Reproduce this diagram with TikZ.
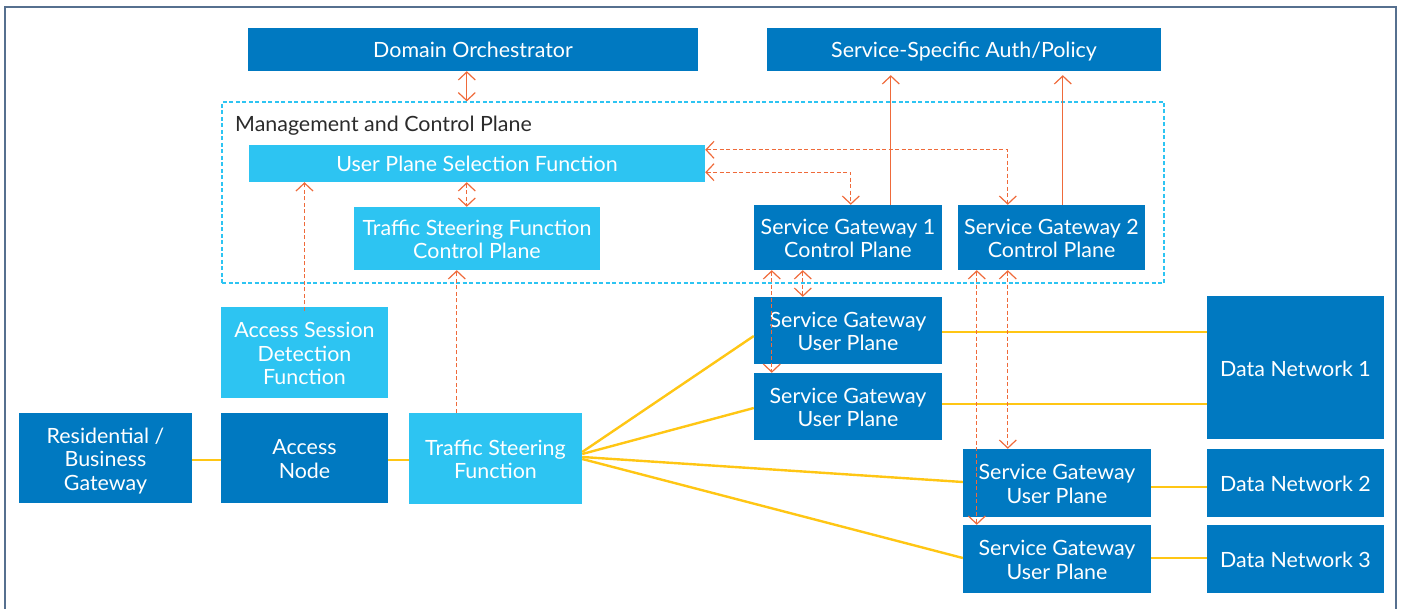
\documentclass[tikz,border=0pt]{standalone}
\usepackage{fontspec}
\setmainfont{Lato}[FakeStretch=1.02]
\usetikzlibrary{arrows.meta}

\definecolor{dkblue}{HTML}{0079C1}
\definecolor{ltblue}{HTML}{2DC4F2}
\definecolor{linkorange}{HTML}{EF6A3A}
\definecolor{linkyellow}{HTML}{FFC614}
\definecolor{framegray}{HTML}{56708F}
\definecolor{labelgray}{HTML}{2B2B2B}

\newcommand{\boxfont}{\fontsize{21}{23.5}\selectfont}
% fixed first-line height and last-line depth so every box centres its text alike
\newcommand{\topstrut}{\rule{0pt}{21.5pt}}
\newcommand{\botstrut}{\rule[-4.5pt]{0pt}{4.5pt}}

\tikzset{
  dkbox/.style={rectangle, fill=dkblue, text=white, inner sep=0pt, align=center, font=\boxfont,
    execute at begin node=\topstrut, execute at end node=\botstrut},
  ltbox/.style={dkbox, fill=ltblue},
  planeframe/.style={rectangle, draw=ltblue, line width=1.2pt, dash pattern=on 4pt off 2.5pt, inner sep=0pt},
  ylink/.style={draw=linkyellow, line width=2.4pt},
  barb/.tip={Straight Barb[length=8pt,width=17pt,line width=1.2pt]},
  solidarrow/.style={draw=linkorange, line width=1.3pt},
  dasharrow/.style={draw=linkorange, line width=1.3pt, dash pattern=on 4pt off 2.5pt},
}

\begin{document}
\begin{tikzpicture}[x=1pt, y=-1pt]
\useasboundingbox (0,0) rectangle (1404,609);

% outer frame (open at the bottom)
\draw[framegray, line width=2pt] (5,612) -- (5,7) -- (1396,7) -- (1396,612);

% management and control plane region
\node[planeframe, minimum width=942pt, minimum height=181pt] (mcp) at (693,192.5) {};
\node[anchor=base west, text=labelgray, font=\boxfont, inner sep=0pt] (mcplabel) at (235,131.5) {Management and Control Plane};

% top level boxes
\node[dkbox, minimum width=450pt, minimum height=43pt] (orch) at (473,49.5) {Domain Orchestrator};
\node[dkbox, minimum width=394pt, minimum height=43pt] (auth) at (964,49.5) {Service-Specific Auth/Policy};

% control plane functions
\node[ltbox, minimum width=456pt, minimum height=37pt] (upsf) at (477,163.5) {User Plane Selection Function};
\node[ltbox, minimum width=246pt, minimum height=63pt] (tsfcp) at (477,238.5) {\topstrut Traffic Steering Function\\Control Plane};
\node[dkbox, minimum width=188pt, minimum height=65pt] (sg1cp) at (848,237.5) {\topstrut Service Gateway 1\\Control Plane};
\node[dkbox, minimum width=187pt, minimum height=65pt] (sg2cp) at (1051.5,237.5) {\topstrut Service Gateway 2\\Control Plane};

% access side
\node[ltbox, minimum width=167pt, minimum height=91pt] (asdf) at (304.5,352.5) {\topstrut Access Session\\Detection\\Function};
\node[dkbox, minimum width=173pt, minimum height=90pt] (rbg) at (105.5,458) {\topstrut Residential /\\Business\\Gateway};
\node[dkbox, minimum width=167pt, minimum height=90pt] (an) at (304.5,458) {\topstrut Access\\Node};
\node[ltbox, minimum width=173pt, minimum height=91pt] (tsf) at (495.5,458.5) {\topstrut Traffic Steering\\Function};

% user plane gateways
\node[dkbox, minimum width=188pt, minimum height=67pt] (sgu1) at (848,330.5) {\topstrut Service Gateway\\User Plane};
\node[dkbox, minimum width=188pt, minimum height=67pt] (sgu2) at (848,406.5) {\topstrut Service Gateway\\User Plane};
\node[dkbox, minimum width=188pt, minimum height=68pt] (sgu3) at (1057,483) {\topstrut Service Gateway\\User Plane};
\node[dkbox, minimum width=188pt, minimum height=68pt] (sgu4) at (1057,559) {\topstrut Service Gateway\\User Plane};

% data networks
\node[dkbox, minimum width=177pt, minimum height=143pt] (dn1) at (1295.5,367.5) {Data Network 1};
\node[dkbox, minimum width=177pt, minimum height=68pt] (dn2) at (1295.5,483) {Data Network 2};
\node[dkbox, minimum width=177pt, minimum height=68pt] (dn3) at (1295.5,559) {Data Network 3};

% user plane links
\draw[ylink] ([yshift=-2pt]rbg.east) -- ([yshift=-2pt]an.west);
\draw[ylink] ([yshift=-2pt]an.east) -- ([yshift=-1.5pt]tsf.west);
\draw[ylink] ([yshift=6.5pt]tsf.east) -- ([yshift=-5.5pt]sgu1.west);
\draw[ylink] ([yshift=4.5pt]tsf.east) -- ([yshift=-1.5pt]sgu2.west);
\draw[ylink] ([yshift=1.5pt]tsf.east) -- ([yshift=1pt]sgu3.west);
\draw[ylink] ([yshift=-0.5pt]tsf.east) -- ([yshift=1pt]sgu4.west);
\draw[ylink] ([yshift=-1.5pt]sgu1.east) -- ([yshift=-1.5pt]sgu1.east -| dn1.west);
\draw[ylink] ([yshift=2.5pt]sgu2.east) -- ([yshift=2.5pt]sgu2.east -| dn1.west);
\draw[ylink] ([yshift=-4pt]sgu3.east) -- ([yshift=-4pt]dn2.west);
\draw[ylink] ([yshift=1pt]sgu4.east) -- ([yshift=1pt]dn3.west);

% orchestration and policy interfaces
\draw[solidarrow, {barb}-{barb}] ([xshift=219pt]orch.south west) -- ([xshift=219pt]orch.south west |- mcp.north);
\draw[solidarrow, -{barb}, shorten >=4pt] ([xshift=137pt]sg1cp.north west) -- ([xshift=137pt]sg1cp.north west |- auth.south);
\draw[solidarrow, -{barb}, shorten >=4pt] ([xshift=105pt]sg2cp.north west) -- ([xshift=105pt]sg2cp.north west |- auth.south);

% control signalling
\draw[dasharrow, {barb}-{barb}] ([yshift=-5pt]upsf.north east) -| ([xshift=50pt]sg2cp.north west);
\draw[dasharrow, {barb}-{barb}] ([yshift=10pt]upsf.south east) -| ([xshift=97pt]sg1cp.north west);
\draw[dasharrow, {barb}-{barb}] ([xshift=113pt]tsfcp.north west |- upsf.south) -- ([xshift=113pt]tsfcp.north west);
\draw[dasharrow, -{barb}] ([yshift=-4pt]asdf.north) -- (asdf.north |- upsf.south);
\draw[dasharrow, -{barb}] ([xshift=48pt]tsf.north west) -- ([xshift=48pt]tsf.north west |- tsfcp.south);
\draw[dasharrow, {barb}-{barb}] ([xshift=18pt]sg1cp.south west) -- ([xshift=18pt]sg1cp.south west |- sgu2.north);
\draw[dasharrow, {barb}-{barb}] ([xshift=49pt]sg1cp.south west) -- ([xshift=49pt]sg1cp.south west |- sgu1.north);
\draw[dasharrow, {barb}-{barb}] ([xshift=19pt]sg2cp.south west) -- ([xshift=19pt]sg2cp.south west |- sgu4.north);
\draw[dasharrow, {barb}-{barb}] ([xshift=50pt]sg2cp.south west) -- ([xshift=50pt]sg2cp.south west |- sgu3.north);
\end{tikzpicture}
\end{document}
